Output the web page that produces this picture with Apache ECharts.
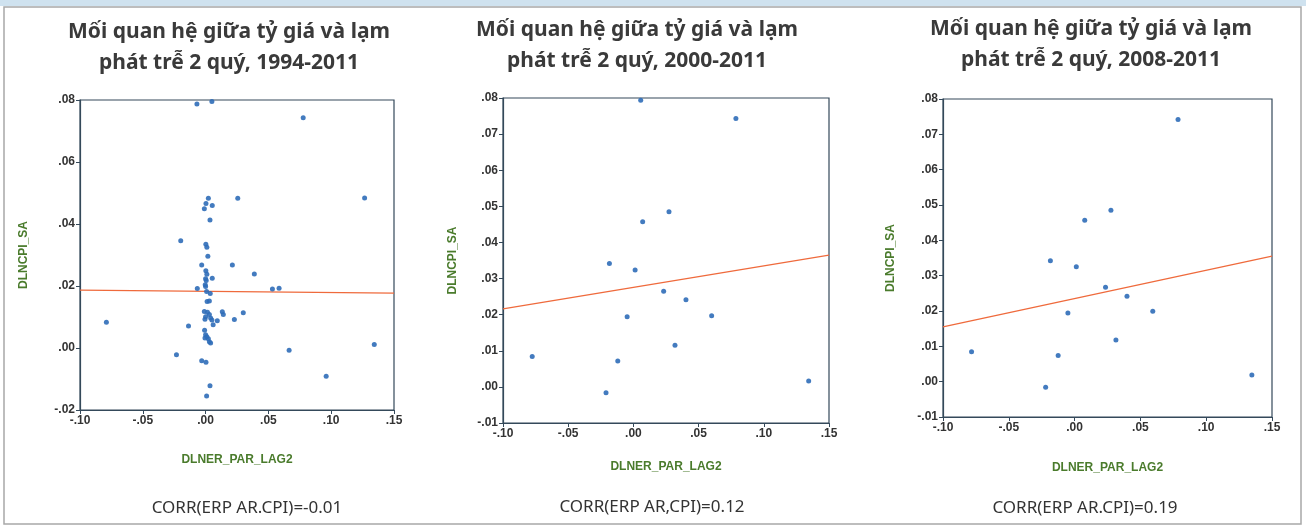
<!DOCTYPE html>
<html>
<head>
<meta charset="utf-8">
<script src="https://cdn.jsdelivr.net/npm/echarts@6/dist/echarts.min.js"></script>
<style>
  html, body { margin: 0; padding: 0; background: #fff; }
  #main { width: 1306px; height: 529px; }
</style>
</head>
<body>
<div id="main"></div>
<script>
// tiêu đề từng khung
const panelTitles = [
  'Mối quan hệ giữa tỷ giá và lạm\nphát trễ 2 quý, 1994-2011',
  'Mối quan hệ giữa tỷ giá và lạm\nphát trễ 2 quý, 2000-2011',
  'Mối quan hệ giữa tỷ giá và lạm\nphát trễ 2 quý, 2008-2011'
]
const corrTexts = ['CORR(ERP AR.CPI)=-0.01', 'CORR(ERP AR,CPI)=0.12', 'CORR(ERP AR.CPI)=0.19']
const xName = 'DLNER_PAR_LAG2'
const yName = 'DLNCPI_SA'

// [DLNER_PAR_LAG2, DLNCPI_SA]
const points1994 = [
  [-0.0069, 0.0787], [0.0050, 0.0795], [0.0777, 0.0743], [0.1266, 0.0484],
  [0.0256, 0.0483], [0.0022, 0.0483], [0.0003, 0.0466], [-0.0010, 0.0449],
  [0.0053, 0.0460], [0.0035, 0.0413], [-0.0198, 0.0346], [0.0002, 0.0335],
  [0.0010, 0.0325], [0.0018, 0.0296], [-0.0031, 0.0268], [0.0213, 0.0268],
  [0.0002, 0.0249], [0.0010, 0.0238], [0.0388, 0.0239], [0.0053, 0.0225],
  [0.0000, 0.0223], [0.0005, 0.0218], [-0.0003, 0.0204], [0.0000, 0.0198],
  [-0.0066, 0.0192], [0.0532, 0.0190], [0.0585, 0.0193], [0.0037, 0.0176],
  [0.0008, 0.0182], [0.0012, 0.0150], [0.0030, 0.0152], [-0.0010, 0.0118],
  [0.0015, 0.0115], [0.0030, 0.0108], [0.0000, 0.0101], [0.0040, 0.0097],
  [0.0050, 0.0090], [-0.0005, 0.0093], [0.0133, 0.0117], [0.0141, 0.0108],
  [0.0300, 0.0114], [0.0229, 0.0092], [0.0093, 0.0088], [0.0060, 0.0075],
  [-0.0136, 0.0071], [-0.0790, 0.0083], [-0.0008, 0.0057], [0.0000, 0.0043],
  [0.0010, 0.0036], [0.0022, 0.0030], [-0.0005, 0.0032], [0.0030, 0.0020],
  [0.0040, 0.0016], [-0.0232, -0.0022], [0.0665, -0.0007], [0.1343, 0.0011],
  [-0.0031, -0.0041], [0.0003, -0.0046], [0.0960, -0.0091], [0.0035, -0.0122],
  [0.0008, -0.0155]
]
const points2000 = [
  [0.0056, 0.0794], [0.0786, 0.0743], [0.0273, 0.0485], [0.0071, 0.0457],
  [-0.0184, 0.0342], [0.0013, 0.0324], [0.0232, 0.0265], [0.0403, 0.0241],
  [-0.0048, 0.0194], [0.0600, 0.0197], [0.0319, 0.0115], [-0.0776, 0.0084],
  [-0.0120, 0.0072], [-0.0210, -0.0016], [0.1344, 0.0016]
]
const points2008 = [
  [0.0786, 0.0742], [0.0276, 0.0485], [0.0077, 0.0457], [-0.0184, 0.0342],
  [0.0013, 0.0325], [0.0235, 0.0267], [0.0398, 0.0242], [-0.0051, 0.0194],
  [0.0594, 0.0199], [0.0314, 0.0118], [-0.0783, 0.0085], [-0.0125, 0.0074],
  [-0.0220, -0.0016], [0.1347, 0.0019]
]
// đường hồi quy (giá trị hai đầu)
const fit1994 = [[-0.10, 0.0187], [0.15, 0.0177]]
const fit2000 = [[-0.10, 0.0216], [0.15, 0.0365]]
const fit2008 = [[-0.10, 0.0155], [0.15, 0.0355]]

const yRanges = [[-0.02, 0.08, 0.02], [-0.01, 0.08, 0.01], [-0.01, 0.08, 0.01]]

const axisColor = '#34495a'
const nameColor = '#4a7b2c'
const dotColor = '#2f6db8'
const fitColor = '#ef6a3c'

function fmt(v) {
  const s = Math.abs(v).toFixed(2).replace(/^0/, '')
  return (v < -1e-9 ? '-' : '') + s
}

const grids = [
  { left: 80, top: 100, width: 314, height: 310 },
  { left: 503, top: 98, width: 326, height: 325 },
  { left: 943, top: 99, width: 329, height: 318 }
]
const yNameGaps = [50, 44, 46]
const xNameGaps = [44, 38, 45]
const titleX = [229, 637, 1091]
const titleY = [17, 15, 14]
const corrY = [508, 507, 508]
const corrX = [247, 652, 1085]

const chart = echarts.init(document.getElementById('main'))

const labelFont = { color: '#333', fontSize: 12, fontWeight: 'bold', fontFamily: 'Liberation Sans' }

const xAxes = grids.map((g, i) => ({
  gridIndex: i,
  type: 'value',
  min: -0.10,
  max: 0.15,
  interval: 0.05,
  name: xName,
  nameLocation: 'middle',
  nameGap: xNameGaps[i],
  nameTextStyle: { color: nameColor, fontSize: 12, fontWeight: 'bold', fontFamily: 'Liberation Sans' },
  axisLine: { show: true, onZero: false, lineStyle: { color: axisColor, width: 1.2 } },
  axisTick: { show: true, length: 4, lineStyle: { color: axisColor } },
  axisLabel: Object.assign({ formatter: fmt, margin: 5 }, labelFont),
  splitLine: { show: false }
}))

const yAxes = grids.map((g, i) => ({
  gridIndex: i,
  type: 'value',
  min: yRanges[i][0],
  max: yRanges[i][1],
  interval: yRanges[i][2],
  name: yName,
  nameLocation: 'middle',
  nameRotate: 90,
  nameGap: yNameGaps[i],
  nameTextStyle: { color: nameColor, fontSize: 12, fontWeight: 'bold', fontFamily: 'Liberation Sans' },
  axisLine: { show: true, onZero: false, lineStyle: { color: axisColor, width: 1.2 } },
  axisTick: { show: true, length: 4, lineStyle: { color: axisColor } },
  axisLabel: Object.assign({ formatter: fmt, margin: 5 }, labelFont),
  splitLine: { show: false }
}))

const pointSets = [points1994, points2000, points2008]
const fitSets = [fit1994, fit2000, fit2008]
const series = []
pointSets.forEach((pts, i) => {
  series.push({
    type: 'line',
    xAxisIndex: i,
    yAxisIndex: i,
    data: fitSets[i],
    symbol: 'none',
    silent: true,
    lineStyle: { color: fitColor, width: 1.3 },
    z: 2
  })
  series.push({
    type: 'scatter',
    xAxisIndex: i,
    yAxisIndex: i,
    data: pts,
    symbolSize: 5,
    itemStyle: { color: dotColor, opacity: 0.9 },
    z: 3
  })
})

const graphics = [
  { type: 'rect', shape: { x: 0, y: 0, width: 1306, height: 6 }, style: { fill: '#cfe2ef' }, silent: true },
  { type: 'rect', shape: { x: 4, y: 7, width: 1297, height: 517 }, style: { fill: 'none', stroke: '#a8a8a8', lineWidth: 1.5 }, silent: true }
]
panelTitles.forEach((t, i) => {
  graphics.push({
    type: 'text', x: titleX[i], y: titleY[i],
    style: { text: t, textAlign: 'center', textVerticalAlign: 'top', fill: '#3a3a3a',
      font: 'bold 21px "Noto Sans"', lineHeight: 31 }
  })
  graphics.push({
    type: 'text', x: corrX[i], y: corrY[i],
    style: { text: corrTexts[i], textAlign: 'center', textVerticalAlign: 'middle', fill: '#333',
      font: '17px "Noto Sans"' }
  })
})

chart.setOption({
  backgroundColor: '#ffffff',
  animation: false,
  grid: grids.map(g => Object.assign({ show: true, borderColor: axisColor, borderWidth: 1.2, containLabel: false }, g)),
  xAxis: xAxes,
  yAxis: yAxes,
  series: series,
  graphic: graphics
})
</script>
</body>
</html>
